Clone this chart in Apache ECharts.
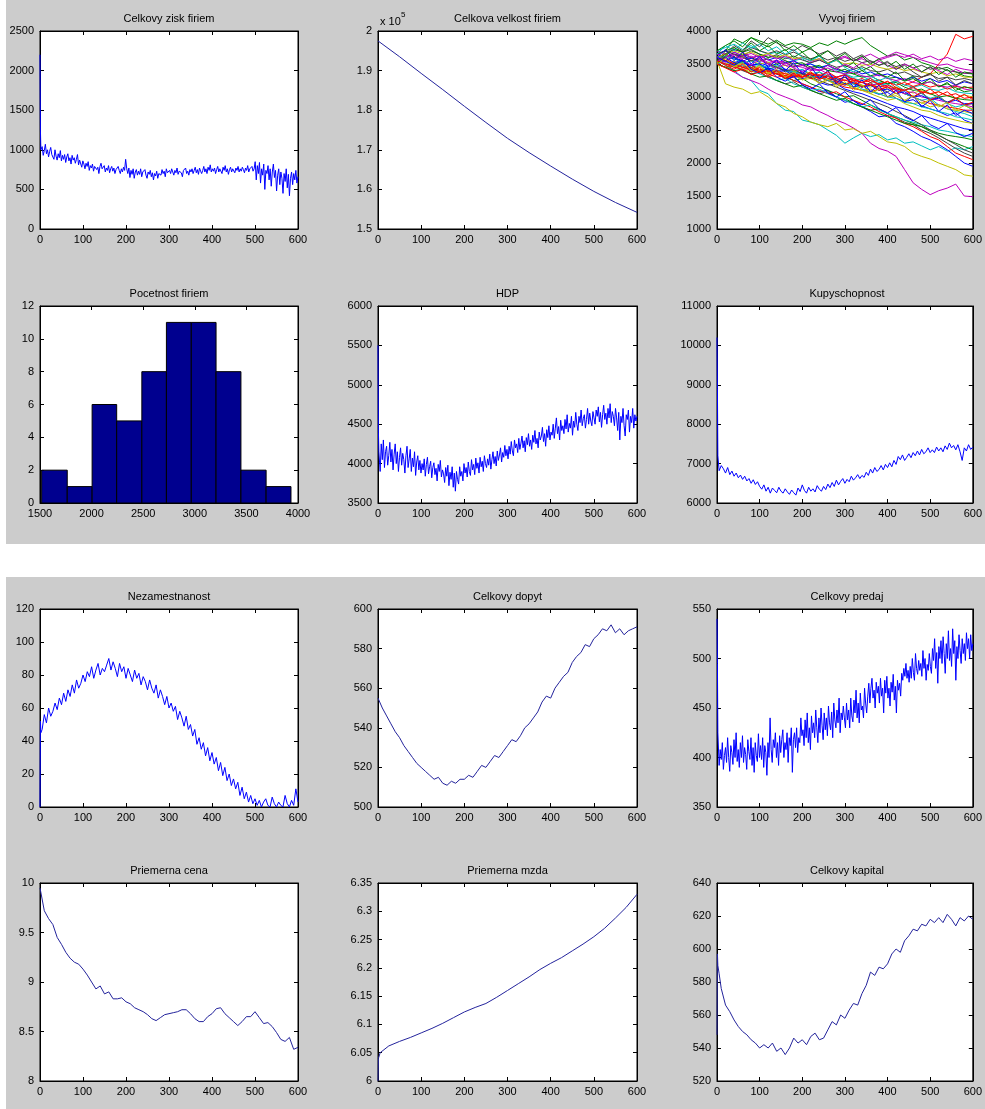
<!DOCTYPE html>
<html><head><meta charset="utf-8">
<script src="https://cdn.jsdelivr.net/npm/echarts@6/dist/echarts.min.js"></script>
<style>
html,body{margin:0;padding:0;background:#fff}
#wrap{position:relative;width:985px;height:1109px}
.panel{position:absolute;background:#cccccc}
#c{position:absolute;left:0;top:0;width:985px;height:1109px}
</style>
</head><body>
<div id="wrap">
<div class="panel" style="left:6px;top:0;width:979px;height:544px"></div>
<div class="panel" style="left:6px;top:577px;width:979px;height:532px"></div>
<div id="c"></div>
</div>
<script>
// ---------------- DATA ----------------
const titles = ['Celkovy zisk firiem','Celkova velkost firiem','Vyvoj firiem','Pocetnost firiem','HDP','Kupyschopnost',
  'Nezamestnanost','Celkovy dopyt','Celkovy predaj','Priemerna cena','Priemerna mzda','Celkovy kapital'];

// Celkovy zisk firiem: t=0,1,2 then 5..600 (evenly spaced)
const ziskStart = [2200, 1250, 1000];
const zisk = [
 1040, 930, 990, 1070, 950, 1000, 910, 980, 1030, 940,
 960, 880, 1000, 920, 870, 950, 900, 990, 860, 930,
 880, 940, 840, 910, 950, 860, 900, 820, 930, 870,
 900, 830, 880, 940, 810, 870, 850, 780, 860, 820,
 760, 830, 790, 850, 740, 800, 770, 820, 730, 790,
 810, 750, 780, 700, 790, 830, 760, 740, 800, 720,
 770, 740, 800, 710, 760, 790, 730, 770, 700, 750,
 730, 790, 740, 700, 760, 720, 780, 740, 880, 760,
 700, 770, 650, 740, 690, 760, 640, 720, 750, 680,
 730, 690, 760, 660, 720, 700, 750, 680, 640, 720,
 690, 740, 660, 710, 620, 700, 670, 730, 640, 700,
 720, 680, 750, 700, 730, 660, 760, 710, 690, 740,
 700, 760, 720, 680, 740, 710, 770, 690, 730, 750,
 710, 660, 740, 720, 770, 700, 730, 680, 750, 720,
 760, 700, 740, 780, 710, 750, 690, 770, 730, 700,
 740, 790, 720, 760, 700, 780, 740, 810, 720, 760,
 730, 770, 700, 750, 790, 720, 760, 740, 700, 780,
 740, 800, 720, 760, 690, 750, 780, 720, 760, 740,
 710, 770, 740, 790, 720, 760, 730, 780, 750, 710,
 770, 740, 800, 720, 760, 740, 790, 730, 760, 850,
 620, 800, 700, 840, 580, 760, 680, 820, 500, 740,
 700, 800, 620, 760, 540, 720, 820, 650, 740, 480,
 680, 760, 560, 720, 640, 450, 700, 600, 760, 520,
 690, 420, 640, 720, 560, 700, 620, 740, 580, 660];

// Celkova velkost firiem: t = 0..600 step 50
const velkost = [197500, 193500, 189300, 185200, 181000, 176900, 172900, 169300, 165900, 162600, 159500, 156700, 154200];

// Vyvoj firiem: each firm t = 0..600 step 20
const firms = [
 [3600,3650,3580,3540,3600,3520,3470,3500,3420,3380,3410,3330,3290,3320,3240,3200,3150,3180,3090,3040,3070,2980,2930,2960,2870,2820,2780,2720,2760,2650,2600],
 [3550,3700,3880,3820,3900,3850,3800,3860,3780,3820,3800,3750,3820,3780,3850,3800,3860,3900,3780,3700,3620,3650,3560,3600,3520,3480,3420,3450,3380,3320,3300],
 [3500,3450,3480,3400,3420,3380,3350,3400,3320,3360,3300,3340,3280,3310,3260,3300,3240,3280,3220,3260,3200,3250,3180,3230,3300,3350,3500,3650,3950,3880,3920],
 [3550,3480,3400,3300,3250,3100,3050,2900,2800,2780,2650,2620,2580,2500,2420,2300,2380,2450,2400,2430,2350,2380,2300,2320,2260,2200,2250,2180,2230,2200,2250],
 [3500,3450,3380,3300,3250,3200,3120,3050,3000,2950,2880,2850,2780,2720,2650,2600,2530,2450,2300,2220,2180,2100,1900,1700,1600,1520,1580,1620,1680,1500,1490],
 [3550,3200,3150,3120,3050,3080,3000,2900,2850,2750,2700,2620,2580,2550,2600,2500,2520,2450,2480,2400,2320,2300,2250,2150,2100,2060,2000,1950,1900,1820,1800],
 [3600,3550,3620,3500,3550,3480,3420,3460,3380,3400,3350,3300,3380,3280,3250,3300,3200,3150,3220,3120,3080,3150,3050,3000,3060,2950,3000,2920,2980,2880,2900],
 [3650,3700,3600,3550,3480,3500,3400,3350,3280,3300,3200,3150,3080,3100,3000,2920,2950,2850,2780,2700,2720,2600,2550,2480,2400,2350,2280,2200,2100,2000,1950],
 [3550,3620,3580,3650,3600,3540,3580,3500,3520,3460,3500,3420,3460,3400,3440,3380,3350,3400,3320,3360,3280,3300,3240,3280,3200,3230,3160,3200,3140,3080,3100],
 [3550,3500,3480,3450,3430,3400,3380,3350,3360,3320,3300,3350,3330,3250,3200,3150,3130,3100,3080,3120,3150,3100,3050,3000,2950,2900,2880,2850,2830,2800,2800],
 [3700,3750,3800,3720,3780,3700,3650,3680,3600,3550,3580,3500,3450,3480,3400,3350,3300,3320,3250,3180,3200,3120,3050,3000,2950,2980,2880,2820,2780,2750,2700],
 [3600,3650,3580,3620,3550,3600,3520,3560,3500,3540,3480,3520,3560,3500,3580,3620,3550,3600,3650,3580,3620,3680,3640,3600,3560,3520,3480,3500,3450,3420,3400],
 [3550,3500,3540,3470,3420,3460,3380,3400,3350,3380,3320,3280,3300,3250,3280,3200,3230,3180,3150,3200,3120,3150,3100,3060,3100,3040,3080,3020,2980,3030,3000],
 [3500,3450,3480,3400,3350,3380,3300,3250,3200,3230,3150,3100,3050,3080,3000,2950,2900,2850,2800,2820,2750,2680,2620,2580,2500,2450,2380,2300,2220,2150,2100],
 [3650,3600,3680,3620,3580,3640,3560,3600,3520,3550,3480,3500,3440,3480,3420,3380,3420,3350,3380,3320,3350,3300,3260,3300,3240,3280,3220,3250,3180,3230,3200],
 [3600,3550,3500,3540,3450,3400,3420,3350,3300,3250,3280,3200,3150,3100,3050,3000,3020,2950,2880,2820,2750,2700,2650,2600,2550,2480,2420,2350,2300,2250,2200],
 [3550,3580,3500,3450,3480,3400,3350,3300,3320,3250,3200,3150,3100,3050,3080,3000,2950,2900,2850,2780,2720,2680,2600,2550,2480,2400,2350,2250,2150,2100,2050],
 [3500,3550,3480,3520,3450,3480,3420,3450,3400,3380,3420,3350,3380,3320,3300,3340,3280,3250,3280,3220,3200,3240,3180,3150,3180,3120,3100,3140,3080,3060,3050],
 [3700,3650,3720,3680,3600,3620,3560,3520,3550,3480,3450,3400,3420,3350,3300,3330,3250,3220,3180,3200,3150,3100,3050,3080,3000,2980,2950,2920,2900,2880,2850],
 [3600,3650,3580,3620,3550,3500,3530,3450,3480,3400,3350,3380,3300,3250,3280,3200,3150,3100,3050,3000,2950,2980,2900,2850,2800,2780,2720,2680,2650,2620,2600],
 [3550,3600,3650,3620,3700,3650,3600,3640,3580,3620,3560,3520,3560,3500,3450,3480,3420,3460,3400,3380,3420,3350,3380,3320,3300,3340,3280,3300,3260,3280,3250],
 [3500,3550,3600,3520,3480,3500,3420,3380,3400,3320,3280,3300,3220,3180,3200,3120,3080,3050,3000,2950,2900,2850,2820,2780,2720,2680,2640,2600,2560,2520,2500],
 [3650,3700,3750,3680,3720,3650,3600,3620,3550,3500,3520,3450,3480,3400,3380,3420,3350,3300,3320,3250,3200,3220,3150,3100,3120,3050,3000,3020,2980,2960,2950],
 [3600,3550,3500,3450,3480,3420,3380,3400,3350,3320,3360,3300,3340,3280,3300,3250,3280,3220,3250,3200,3230,3180,3220,3160,3200,3150,3180,3120,3160,3140,3150],
 [3550,3500,3450,3480,3400,3350,3300,3250,3280,3200,3150,3100,3120,3050,3000,2950,2900,2850,2880,2800,2750,2700,2650,2620,2580,2550,2500,2480,2450,2420,2400],
 [3650,3600,3680,3620,3660,3600,3640,3580,3620,3560,3600,3540,3580,3520,3560,3600,3550,3580,3520,3560,3600,3640,3600,3650,3580,3620,3560,3600,3540,3580,3550],
 [3500,3450,3480,3420,3380,3400,3350,3380,3300,3320,3260,3280,3220,3250,3180,3200,3150,3100,3120,3050,3000,3020,2950,2900,2920,2850,2880,2820,2800,2780,2750],
 [3600,3650,3720,3680,3750,3700,3660,3700,3640,3680,3620,3580,3620,3560,3600,3540,3580,3520,3550,3480,3520,3460,3500,3440,3480,3420,3450,3400,3380,3360,3350],
 [3550,3600,3520,3560,3480,3500,3440,3400,3420,3350,3380,3300,3320,3250,3280,3200,3220,3150,3180,3100,3120,3050,3080,3000,3020,2960,2980,2920,2950,2900,2900],
 [3500,3450,3400,3420,3350,3300,3320,3250,3200,3150,3180,3100,3050,3000,2950,2980,2900,2850,2800,2750,2700,2650,2600,2580,2550,2500,2450,2420,2400,2380,2350],
 [3550,3500,3450,3420,3450,3380,3400,3350,3320,3300,3340,3280,3300,3250,3230,3260,3200,3220,3180,3150,3180,3120,3100,3140,3080,3050,3080,3020,3050,2980,3000],
 [3600,3620,3580,3520,3550,3480,3450,3480,3400,3380,3350,3300,3320,3250,3220,3180,3200,3120,3080,3050,3000,2980,2920,2900,2850,2820,2780,2750,2700,2680,2650],
 [3550,3600,3650,3580,3620,3560,3500,3540,3480,3450,3480,3420,3400,3440,3380,3350,3380,3320,3300,3340,3280,3250,3280,3220,3200,3230,3170,3150,3180,3120,3100],
 [3600,3650,3700,3650,3680,3620,3660,3600,3640,3580,3600,3550,3580,3520,3550,3500,3520,3480,3500,3450,3420,3450,3400,3420,3380,3350,3380,3320,3350,3300,3300],
 [3650,3700,3650,3600,3550,3580,3500,3450,3400,3420,3350,3300,3250,3200,3150,3100,3050,3000,2950,2900,2850,2780,2720,2650,2580,2500,2420,2350,2280,2200,2150],
 [3600,3720,3550,3680,3500,3620,3450,3560,3400,3520,3350,3460,3280,3400,3200,3330,3150,3260,3080,3180,3000,3100,2920,3020,2850,2950,2780,2880,2720,2800,2750],
 [3500,3620,3750,3680,3820,3700,3780,3650,3720,3600,3680,3560,3640,3500,3580,3450,3520,3400,3460,3350,3300,3380,3250,3320,3200,3280,3150,3220,3100,3160,3120],
 [3550,3480,3420,3500,3380,3450,3320,3400,3280,3360,3300,3380,3260,3340,3220,3180,3250,3150,3200,3100,3160,3050,3120,3000,3080,2950,3020,2900,2980,2880,2920],
 [3650,3780,3700,3820,3740,3800,3700,3760,3650,3720,3600,3550,3620,3500,3560,3450,3380,3440,3320,3250,3300,3180,3100,3150,3050,2980,3020,2900,2850,2880,2800],
 [3600,3520,3640,3560,3480,3580,3500,3420,3520,3440,3380,3460,3400,3480,3420,3500,3440,3520,3460,3540,3480,3420,3500,3440,3380,3450,3400,3340,3420,3360,3380],
 [3500,3580,3460,3520,3400,3480,3360,3420,3300,3380,3260,3320,3200,3280,3150,3230,3100,3180,3050,3120,3000,3060,2950,3020,2900,2960,2850,2920,2800,2870,2820],
 [3550,3650,3780,3700,3850,3760,3900,3820,3760,3700,3780,3720,3650,3700,3620,3680,3580,3640,3540,3480,3540,3420,3480,3380,3300,3360,3240,3300,3180,3250,3200],
 [3600,3540,3480,3560,3420,3360,3440,3300,3240,3320,3180,3120,3200,3060,3000,3080,2940,2880,2960,2820,2760,2840,2700,2640,2720,2580,2520,2600,2460,2400,2450],
 [3700,3780,3850,3760,3900,3820,3760,3840,3700,3780,3680,3740,3620,3700,3580,3660,3540,3620,3500,3580,3460,3540,3420,3500,3380,3460,3340,3420,3300,3380,3350],
 [3500,3440,3380,3420,3340,3380,3300,3360,3280,3340,3300,3360,3320,3380,3300,3340,3260,3220,3280,3180,3240,3140,3100,3160,3060,3120,3020,3080,2980,3040,2960]
];
const firmColors = ['#0000ff','#008000','#ff0000','#00bfbf','#bf00bf','#bfbf00','#404040'];

// Pocetnost firiem (histogram)
const histEdges = [1516, 1764, 2005, 2243, 2487, 2725, 2966, 3206, 3447, 3691, 3932];
const histCounts = [2, 1, 6, 5, 8, 11, 11, 8, 2, 1];

// HDP: t=0,1,2 then 5..600
const hdpStart = [5500, 4400, 4150];
const hdp = [
 3900, 4250, 4050, 4300, 3950, 4150, 4220, 3980, 4100, 4270,
 4020, 4180, 3920, 4120, 4250, 4000, 4150, 3900, 4080, 4200,
 3980, 4130, 4050, 3880, 4100, 4220, 3950, 4060, 4180, 3900,
 4070, 3960, 4150, 3850, 4020, 4100, 3920, 4040, 3880, 4000,
 3920, 4060, 3840, 3990, 4080, 3870, 3960, 4030, 3820, 3950,
 4010, 3860, 3940, 3780, 3990, 3900, 4040, 3830, 3920, 3870,
 3760, 3950, 3840, 3980, 3720, 3890, 3800, 3960, 3700, 3880,
 3650, 3900, 3800, 3740, 3960, 3840, 3900, 3780, 4000, 3880,
 3950, 3830, 4020, 3900, 3850, 4050, 3920, 3990, 3860, 4070,
 3940, 4010, 3880, 4080, 3960, 4030, 3900, 4100, 4000, 3950,
 4060, 3980, 4120, 3930, 4050, 4150, 4000, 4090, 3970, 4160,
 4040, 4110, 4200, 4020, 4140, 4080, 4230, 4100, 4180, 4060,
 4220, 4120, 4280, 4160, 4100, 4300, 4200, 4250, 4140, 4320,
 4180, 4260, 4350, 4200, 4290, 4150, 4330, 4240, 4380, 4220,
 4300, 4180, 4360, 4270, 4420, 4250, 4320, 4200, 4400, 4300,
 4350, 4460, 4280, 4380, 4220, 4430, 4330, 4480, 4300, 4400,
 4360, 4500, 4320, 4450, 4580, 4380, 4470, 4300, 4550, 4420,
 4480, 4380, 4560, 4440, 4620, 4400, 4510, 4450, 4600, 4360,
 4540, 4460, 4650, 4500, 4420, 4600, 4520, 4680, 4480, 4570,
 4620, 4450, 4560, 4700, 4500, 4640, 4540, 4480, 4660, 4580,
 4500, 4680, 4600, 4720, 4530, 4650, 4460, 4620, 4740, 4560,
 4640, 4500, 4700, 4580, 4760, 4520, 4660, 4600, 4480, 4700,
 4580, 4420, 4650, 4300, 4600, 4520, 4700, 4480, 4350, 4620,
 4560, 4680, 4400, 4600, 4520, 4700, 4450, 4620, 4540, 4600];

// Kupyschopnost
const kupStart = [10200, 8900, 7200];
const kup = [
 6820, 6950, 6870, 6760, 6900, 6720, 6810, 6680, 6760, 6640,
 6710, 6600, 6680, 6560, 6620, 6500, 6590, 6470, 6540, 6420,
 6350, 6460, 6300, 6400, 6250, 6380, 6320, 6260, 6400, 6300,
 6250, 6360, 6280, 6220, 6330, 6260, 6200, 6380, 6290, 6460,
 6320, 6250, 6400, 6300, 6360, 6280, 6440, 6350, 6300, 6420,
 6340, 6480, 6390, 6520, 6420, 6580, 6460, 6550, 6620, 6500,
 6600, 6540, 6680, 6580, 6640, 6720, 6620, 6700, 6650, 6780,
 6700, 6860, 6760, 6900, 6800, 6850, 6950, 6840, 6980, 6900,
 7020, 6920, 7080, 6980, 7180, 7100, 7220, 7080, 7160, 7250,
 7150, 7280, 7200, 7320, 7220, 7360, 7250, 7300, 7400, 7280,
 7350, 7280, 7420, 7320, 7400, 7300, 7450, 7360, 7520, 7400,
 7460, 7350, 7480, 7300, 7080, 7400, 7320, 7480, 7360, 7420];

// Nezamestnanost
const nezStart = [0, 52, 45];
const nez = [
 47, 56, 51, 60, 55, 58, 63, 59, 66, 62,
 69, 64, 71, 67, 74, 69, 77, 72, 75, 80,
 76, 82, 79, 85, 78, 83, 87, 80, 84, 82,
 86, 90, 83, 88, 84, 79, 87, 82, 85, 78,
 84, 80, 76, 83, 78, 81, 74, 79, 76, 71,
 77, 72, 69, 74, 66, 71, 67, 62, 67, 60,
 63, 58, 61, 53, 58, 54, 49, 55, 47, 50,
 43, 47, 38, 42, 35, 39, 31, 36, 28, 33,
 26, 30, 22, 27, 19, 24, 16, 20, 13, 17,
 11, 15, 7, 12, 5, 9, 3, 7, 2, 5,
 1, 4, 0, 3, 5, 1, 0, 6, 2, 0,
 3, 1, 0, 7, 2, 0, 4, 1, 11, 3];

// Celkovy dopyt: t = 0..600 step 10
const dopyt = [
 555, 550, 546, 542, 538, 535, 531, 528, 525, 522, 520,
 518, 516, 514, 515, 512, 511, 513, 512, 514, 514,
 516, 515, 518, 521, 520, 523, 526, 525, 528, 531,
 534, 533, 536, 540, 542, 545, 548, 553, 556, 555,
 560, 563, 566, 568, 573, 576, 578, 582, 581, 585,
 587, 590, 589, 592, 588, 590, 587, 589, 590, 591];

// Celkovy predaj
const predajStart = [540, 495, 425];
const predaj = [
 392, 408, 398, 415, 388, 402, 410, 395, 420, 400,
 386, 412, 405, 393, 418, 400, 425, 396, 408, 390,
 415, 400, 422, 395, 410, 403, 388, 418, 406, 398,
 420, 392, 410, 385, 415, 402, 396, 424, 400, 412,
 398, 420, 390, 412, 405, 382, 415, 400, 440, 408,
 395, 418, 410, 425, 400, 415, 392, 422, 405, 418,
 428, 400, 415, 408, 425, 395, 420, 412, 430, 385,
 418, 425, 410, 430, 405, 420, 415, 440, 422, 428,
 412, 438, 420, 445, 415, 430, 408, 442, 425, 435,
 420, 448, 430, 415, 440, 425, 450, 432, 418, 445,
 428, 440, 422, 452, 435, 428, 446, 420, 455, 438,
 430, 448, 435, 460, 425, 445, 438, 452, 440, 430,
 455, 438, 448, 430, 460, 442, 436, 458, 445, 468,
 440, 455, 435, 465, 448, 452, 440, 470, 455, 445,
 462, 475, 455, 470, 480, 460, 468, 450, 476, 465,
 472, 455, 480, 462, 470, 445, 478, 465, 482, 460,
 470, 452, 476, 466, 484, 458, 472, 445, 478, 468,
 475, 462, 485, 478, 490, 482, 495, 480, 488, 476,
 492, 480, 500, 486, 478, 505, 490, 484, 498, 488,
 495, 482, 508, 490, 500, 478, 494, 488, 505, 492,
 485, 510, 498, 520, 490, 506, 475, 512, 500, 518,
 495, 522, 505, 485, 515, 500, 528, 498, 510, 492,
 530, 505, 518, 478, 512, 500, 524, 508, 495, 520,
 505, 515, 498, 526, 510, 520, 500, 524, 508, 515];

// Priemerna cena: t = 0..600 step 10
const cena = [
 9.95, 9.72, 9.64, 9.58, 9.45, 9.38, 9.30, 9.24, 9.20, 9.18, 9.13,
 9.07, 9.00, 8.93, 8.96, 8.88, 8.90, 8.83, 8.83, 8.84, 8.80,
 8.78, 8.74, 8.72, 8.70, 8.67, 8.63, 8.61, 8.64, 8.67, 8.68,
 8.69, 8.70, 8.72, 8.72, 8.68, 8.63, 8.60, 8.60, 8.65, 8.68,
 8.73, 8.74, 8.68, 8.64, 8.60, 8.56, 8.60, 8.65, 8.65, 8.70,
 8.64, 8.58, 8.59, 8.55, 8.49, 8.42, 8.40, 8.44, 8.32, 8.34];

// Priemerna mzda
const mzdaT = [0, 1, 5, 25, 50, 75, 100, 125, 150, 175, 200, 225, 250, 275, 300, 325, 350, 375, 400, 425, 450, 475, 500, 525, 550, 575, 600];
const mzda = [6.0, 6.04, 6.05, 6.062, 6.07, 6.077, 6.085, 6.093, 6.102, 6.112, 6.122, 6.13, 6.137, 6.148, 6.16, 6.172, 6.184, 6.197, 6.208, 6.218, 6.23, 6.242, 6.255, 6.27, 6.288, 6.307, 6.33];

// Celkovy kapital: t=0,1,2,5 then 10..600 step 10
const kapitalStartT = [0, 1, 2, 5];
const kapitalStart = [548, 597, 590, 585];
const kapital = [
 576, 566, 562, 557, 553, 550, 548, 545, 543, 540,
 542, 540, 543, 538, 540, 536, 540, 546, 543, 545,
 542, 547, 549, 545, 546, 551, 556, 554, 560, 558,
 563, 567, 566, 573, 578, 586, 584, 589, 588, 591,
 597, 600, 598, 605, 608, 612, 611, 615, 614, 618,
 616, 619, 616, 621, 618, 614, 619, 617, 620, 618];

// ---------------- LAYOUT ----------------
const cols = [{left: 40, width: 258}, {left: 378, width: 259}, {left: 717, width: 260}];
const rows = [{top: 31, height: 198}, {top: 306, height: 197}, {top: 609, height: 198}, {top: 883, height: 198}];
const FONT = 'Liberation Sans, Arial, sans-serif';

// axis ranges per panel: [xmin,xmax,xint, ymin,ymax,yint]
const ranges = [
 [0,600,100, 0,2500,500],
 [0,600,100, 150000,200000,10000],
 [0,600,100, 1000,4000,500],
 [1500,4000,500, 0,12,2],
 [0,600,100, 3500,6000,500],
 [0,600,100, 6000,11000,1000],
 [0,600,100, 0,120,20],
 [0,600,100, 500,600,20],
 [0,600,100, 350,550,50],
 [0,600,100, 8,10,0.5],
 [0,600,100, 6,6.35,0.05],
 [0,600,100, 520,640,20]
];

function pairs(startT, startV, from, to, body) {
  const out = [];
  for (let i = 0; i < startV.length; i++) out.push([startT[i], startV[i]]);
  const n = body.length;
  for (let i = 0; i < n; i++) out.push([from + i * (to - from) / (n - 1), body[i]]);
  return out;
}

const grids = [], xAxes = [], yAxes = [], series = [], graphics = [];
const fmtNum = v => String(+(+v).toFixed(2));

for (let g = 0; g < 12; g++) {
  const r = rows[Math.floor(g / 3)], c = cols[g % 3];
  grids.push({left: c.left, top: r.top, width: c.width, height: r.height, show: true,
    backgroundColor: '#ffffff', borderColor: '#000', borderWidth: 1, containLabel: false});
  const [x0, x1, xi, y0, y1, yi] = ranges[g];
  const base = {axisLine: {show: true, onZero: false, lineStyle: {color: '#000', width: 1}},
    axisTick: {show: true, inside: true, length: 4, lineStyle: {color: '#000'}},
    splitLine: {show: false}};
  xAxes.push(Object.assign({type: 'value', gridIndex: g, position: 'bottom', min: x0, max: x1, interval: xi,
    axisLabel: {show: true, color: '#000', fontSize: 11, fontFamily: FONT, margin: 5, showMinLabel: true, showMaxLabel: true, formatter: fmtNum}}, base));
  xAxes.push(Object.assign({type: 'value', gridIndex: g, position: 'top', min: x0, max: x1, interval: xi,
    axisLabel: {show: false}}, base));
  let yfmt = fmtNum;
  if (g === 1) yfmt = v => String(+(v / 1e5).toFixed(1));
  yAxes.push(Object.assign({type: 'value', gridIndex: g, position: 'left', min: y0, max: y1, interval: yi,
    axisLabel: {show: true, color: '#000', fontSize: 11, fontFamily: FONT, margin: 6, showMinLabel: true, showMaxLabel: true, formatter: yfmt}}, base));
  yAxes.push(Object.assign({type: 'value', gridIndex: g, position: 'right', min: y0, max: y1, interval: yi,
    axisLabel: {show: false}}, base));
  graphics.push({type: 'text', x: c.left + c.width / 2, y: r.top - 12, z: 10,
    style: {text: titles[g], font: '11px ' + FONT, fill: '#000', align: 'center', verticalAlign: 'middle',
      textAlign: 'center', textVerticalAlign: 'middle'}});
}

function line(g, data, color, width) {
  return {type: 'line', xAxisIndex: 2 * g, yAxisIndex: 2 * g, data: data, showSymbol: false, symbol: 'none',
    lineStyle: {color: color, width: width || 1}, itemStyle: {color: color}, silent: true, clip: true,
    animation: false, sampling: null};
}

const BLUE = '#0000ff', NAVY = '#23239c';
series.push(line(0, pairs([0,1,2], ziskStart, 5, 600, zisk), BLUE));
series.push(line(1, pairs([], [], 0, 600, velkost), NAVY));
firms.forEach((f, i) => series.push(line(2, pairs([], [], 0, 600, f), firmColors[i % firmColors.length])));
series.push({type: 'custom', xAxisIndex: 6, yAxisIndex: 6, silent: true, animation: false,
  data: histCounts.map((cnt, i) => [histEdges[i], histEdges[i + 1], cnt]),
  encode: {x: [0, 1], y: 2},
  renderItem: function (params, api) {
    const a = api.coord([api.value(0), api.value(2)]);
    const b = api.coord([api.value(1), 0]);
    return {type: 'rect', shape: {x: a[0], y: a[1], width: b[0] - a[0], height: b[1] - a[1]},
      style: {fill: '#00008f', stroke: '#000', lineWidth: 1}};
  }});
series.push(line(4, pairs([0,1,2], hdpStart, 5, 600, hdp), BLUE));
series.push(line(5, pairs([0,1,2], kupStart, 5, 600, kup), BLUE));
series.push(line(6, pairs([0,1,2], nezStart, 5, 600, nez), BLUE));
series.push(line(7, pairs([], [], 0, 600, dopyt), NAVY));
series.push(line(8, pairs([0,1,2], predajStart, 5, 600, predaj), BLUE));
series.push(line(9, pairs([], [], 0, 600, cena), NAVY));
series.push(line(10, mzdaT.map((t, i) => [t, mzda[i]]), NAVY));
series.push(line(11, pairs(kapitalStartT, kapitalStart, 10, 600, kapital), NAVY));

// "x 10^5" exponent label
graphics.push({type: 'text', x: 380, y: 22, z: 10,
  style: {text: 'x 10', font: '11px ' + FONT, fill: '#000', align: 'left', verticalAlign: 'middle', textAlign: 'left', textVerticalAlign: 'middle'}});
graphics.push({type: 'text', x: 401, y: 15, z: 10,
  style: {text: '5', font: '8px ' + FONT, fill: '#000', align: 'left', verticalAlign: 'middle', textAlign: 'left', textVerticalAlign: 'middle'}});

const chart = echarts.init(document.getElementById('c'), null, {renderer: 'canvas', width: 985, height: 1109});
chart.setOption({
  backgroundColor: 'transparent',
  animation: false,
  grid: grids, xAxis: xAxes, yAxis: yAxes, series: series,
  graphic: {elements: graphics}
});
</script>
</body></html>
